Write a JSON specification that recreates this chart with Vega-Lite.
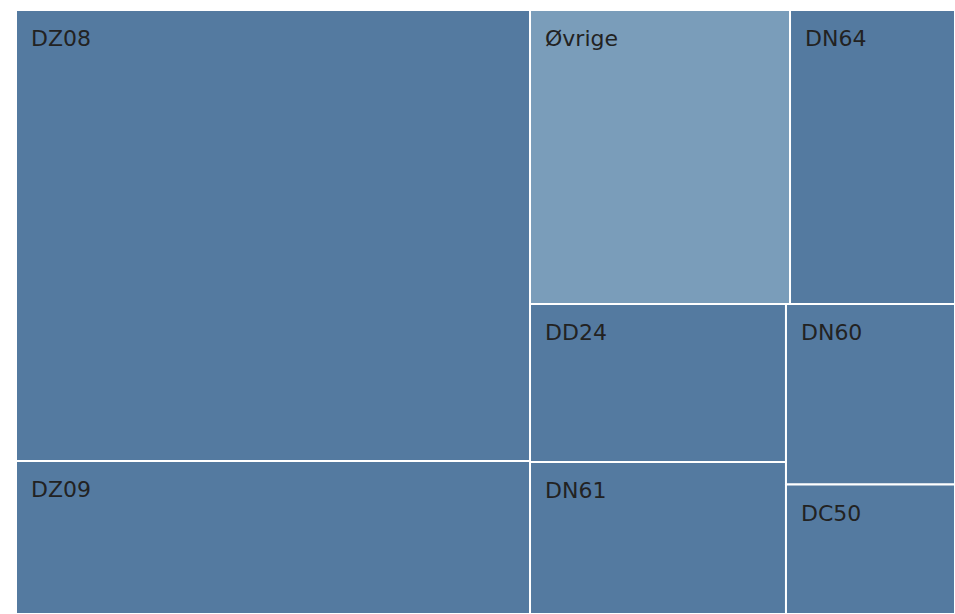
{
  "$schema": "https://vega.github.io/schema/vega-lite/v6.json",
  "autosize": {"type": "none"},
  "width": 939,
  "height": 604,
  "padding": {"left": 16, "top": 10, "right": 0, "bottom": 0},
  "background": "white",
  "config": {"view": {"stroke": null}},
  "data": {
    "values": [
      {"code": "DZ08", "type": "main", "x0": 0, "x1": 54.74, "y0": 0, "y1": 74.67},
      {"code": "DZ09", "type": "main", "x0": 0, "x1": 54.74, "y0": 74.67, "y1": 100},
      {"code": "Øvrige", "type": "other", "x0": 54.74, "x1": 82.43, "y0": 0, "y1": 48.68},
      {"code": "DN64", "type": "main", "x0": 82.43, "x1": 100, "y0": 0, "y1": 48.68},
      {"code": "DD24", "type": "main", "x0": 54.74, "x1": 82.0, "y0": 48.68, "y1": 74.83},
      {"code": "DN61", "type": "main", "x0": 54.74, "x1": 82.0, "y0": 74.83, "y1": 100},
      {"code": "DN60", "type": "main", "x0": 82.0, "x1": 100, "y0": 48.68, "y1": 78.56},
      {"code": "DC50", "type": "main", "x0": 82.0, "x1": 100, "y0": 78.56, "y1": 100}
    ]
  },
  "encoding": {
    "x": {"field": "x0", "type": "quantitative", "scale": {"domain": [0, 100], "nice": false, "zero": false}, "axis": null},
    "y": {"field": "y0", "type": "quantitative", "scale": {"domain": [0, 100], "nice": false, "zero": false, "reverse": true}, "axis": null}
  },
  "layer": [
    {
      "mark": {"type": "rect", "stroke": "white", "strokeWidth": 2},
      "encoding": {
        "x2": {"field": "x1"},
        "y2": {"field": "y1"},
        "color": {"field": "type", "type": "nominal", "scale": {"domain": ["main", "other"], "range": ["#547aa0", "#7a9dba"]}, "legend": null}
      }
    },
    {
      "mark": {"type": "text", "align": "left", "baseline": "alphabetic", "dx": 15, "dy": 36, "font": "DejaVu Sans", "fontSize": 22, "color": "#222222"},
      "encoding": {
        "text": {"field": "code", "type": "nominal"}
      }
    }
  ]
}
